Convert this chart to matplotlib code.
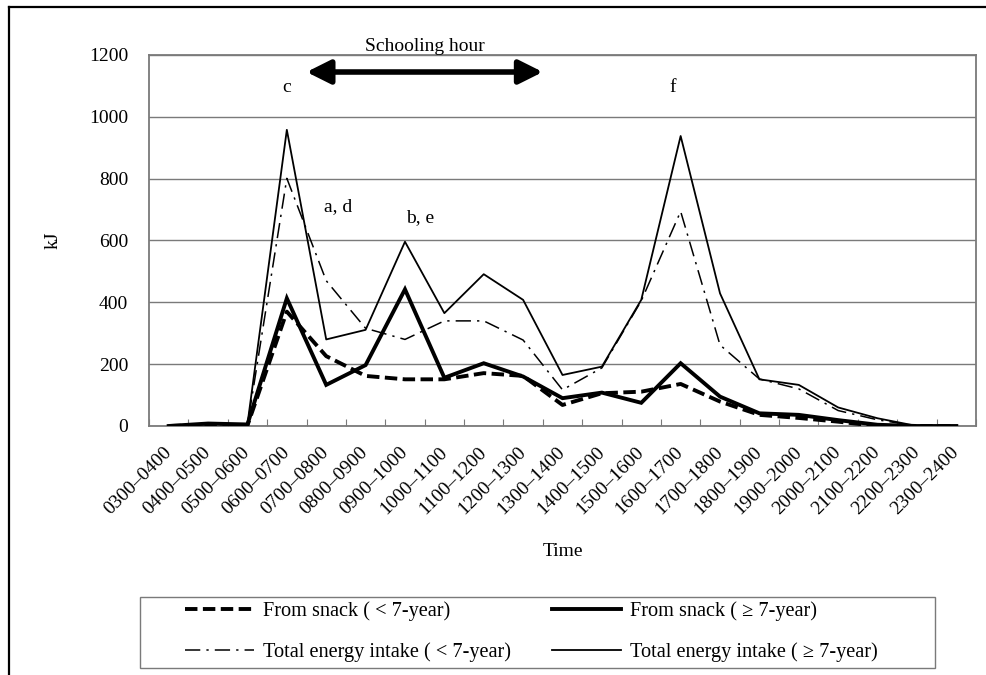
import numpy as np
import matplotlib
matplotlib.use("Agg")
import matplotlib.pyplot as plt
from matplotlib.lines import Line2D
from matplotlib.patches import Rectangle

plt.rcParams['font.family'] = ['Liberation Serif', 'DejaVu Serif']
plt.rcParams['font.size'] = 14

# hourly intervals, 0300 to 2400
periods = ['0300–0400', '0400–0500', '0500–0600', '0600–0700', '0700–0800',
           '0800–0900', '0900–1000', '1000–1100', '1100–1200', '1200–1300',
           '1300–1400', '1400–1500', '1500–1600', '1600–1700', '1700–1800',
           '1800–1900', '1900–2000', '2000–2100', '2100–2200', '2200–2300',
           '2300–2400']

# energy in kJ per interval
snack_lt7 = [0, 3, 2, 370, 226, 162, 151, 151, 171, 162, 68, 106, 111, 136,
             79, 36, 26, 14, 0, 0, 0]
snack_ge7 = [0, 8, 5, 413, 133, 197, 442, 156, 203, 160, 90, 108, 75, 203,
             95, 41, 36, 19, 4, 0, 0]
total_lt7 = [0, 5, 3, 801, 470, 316, 280, 340, 340, 278, 117, 188, 405, 694,
             262, 152, 120, 50, 20, 0, 0]
total_ge7 = [0, 8, 6, 958, 280, 311, 596, 365, 491, 408, 165, 192, 408, 938,
             429, 151, 133, 60, 25, 0, 0]

# school runs 0700 to 1300
school_start, school_end = 3.5, 9.5

W, H = 986, 675
fig = plt.figure(figsize=(W / 100, H / 100), dpi=100)
ax = fig.add_axes([149 / W, 1 - 426 / H, (976 - 149) / W, (426 - 55) / H])

x = np.arange(len(periods))
ax.plot(x, total_ge7, color='black', lw=1.3, label='Total energy intake ( ≥ 7-year)', zorder=3)
ax.plot(x, total_lt7, color='black', lw=1.1, dashes=(10, 4, 1.5, 4),
        label='Total energy intake ( < 7-year)', zorder=3)
ax.plot(x, snack_ge7, color='black', lw=2.8, solid_joinstyle='miter',
        label='From snack ( ≥ 7-year)', zorder=4)
ax.plot(x, snack_lt7, color='black', lw=2.8, dashes=(3.2, 1.4),
        label='From snack ( < 7-year)', zorder=4)

ax.set_xlim(-0.5, len(periods) - 0.5)
ax.set_ylim(0, 1200)
ax.set_yticks(range(0, 1201, 200))
ax.yaxis.grid(True, color='#7a7a7a', lw=1.0)
ax.set_axisbelow(True)
ax.tick_params(axis='y', length=0, pad=15)

# category ticks sit between the labels
ax.set_xticks(np.arange(len(periods) + 1) - 0.5)
ax.set_xticklabels([])
ax.set_xticks(x, minor=True)
ax.set_xticklabels(periods, minor=True, rotation=45, ha='right',
                   rotation_mode='anchor', va='center')
ax.tick_params(axis='x', which='major', direction='in', length=5, color='#7a7a7a')
ax.tick_params(axis='x', which='minor', length=0, pad=17)

for s in ax.spines.values():
    s.set_color('#7a7a7a')
    s.set_linewidth(1.3)

ax.set_xlabel('Time', labelpad=18)
ax.set_ylabel('kJ', labelpad=20)

# schooling hour arrow and significance letters
ax.annotate('', xy=(school_end, 1145), xytext=(school_start, 1145),
            arrowprops=dict(arrowstyle='<|-|>', color='black', lw=4,
                            mutation_scale=36, shrinkA=0, shrinkB=0),
            annotation_clip=False)
ax.text((school_start + school_end) / 2, 1226, 'Schooling hour', ha='center',
        va='center', clip_on=False)
ax.text(3, 1094, 'c', ha='center', va='center')
ax.text(12.8, 1094, 'f', ha='center', va='center')
ax.text(4.3, 709, 'a, d', ha='center', va='center')
ax.text(6.38, 673, 'b, e', ha='center', va='center')

handles, labels = ax.get_legend_handles_labels()
order = [3, 1, 2, 0]
leg = fig.legend([handles[i] for i in order], [labels[i] for i in order],
                 ncol=2, loc='center left', bbox_to_anchor=(185 / W, 1 - 632 / H),
                 frameon=False, fontsize=14.6, handlelength=3.4,
                 handletextpad=0.45, columnspacing=2.0, borderpad=0,
                 labelspacing=1.05, borderaxespad=0)

# legend box, wider than the entries
fig.add_artist(Rectangle((140 / W, 1 - 668 / H), (935 - 140) / W, (668 - 597) / H,
                         transform=fig.transFigure, fill=False,
                         edgecolor='#7a7a7a', lw=1.0))

# outer frame (top and left edges)
fig.add_artist(Line2D([9 / W, 1], [1 - 7 / H, 1 - 7 / H], color='black', lw=1.6))
fig.add_artist(Line2D([9 / W, 9 / W], [0, 1 - 7 / H], color='black', lw=1.6))

fig.savefig('out.png', dpi=100)
